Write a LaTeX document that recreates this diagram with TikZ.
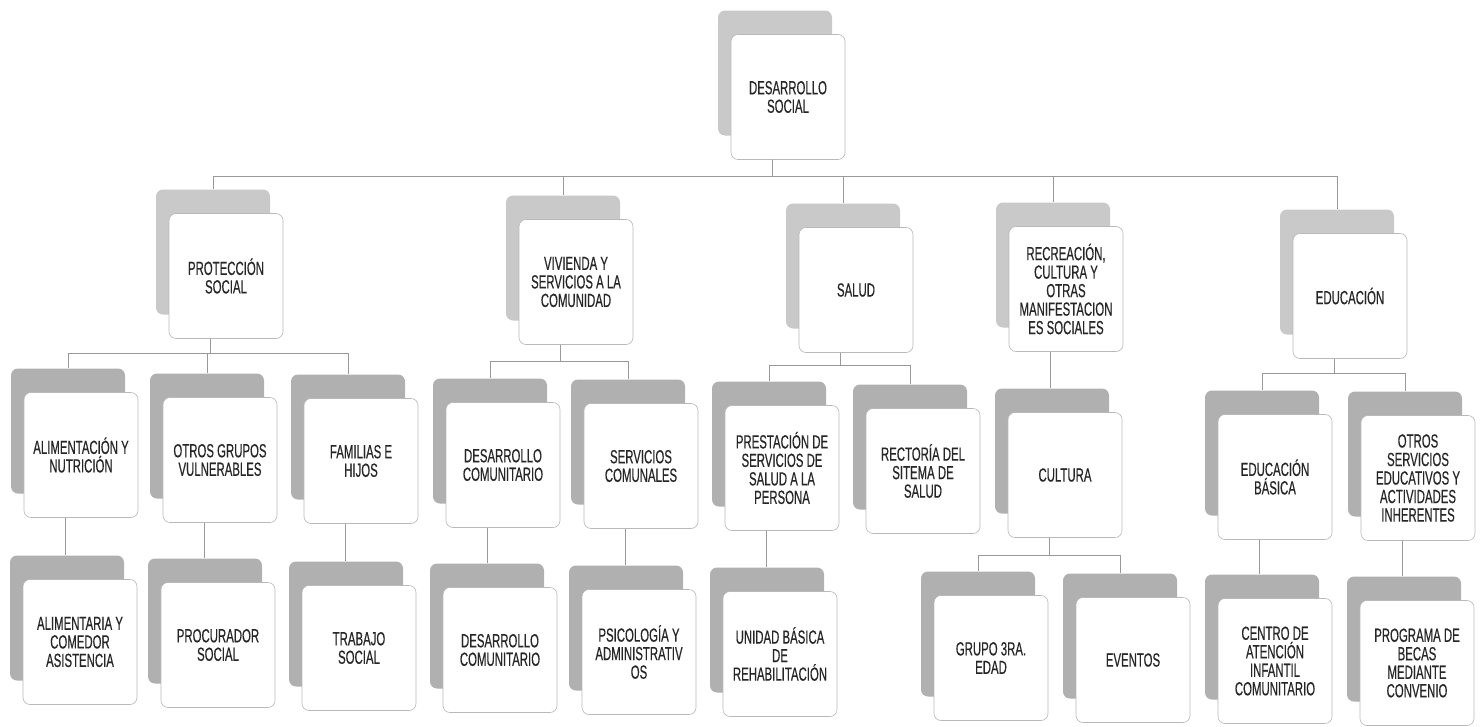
\documentclass[tikz,border=0pt]{standalone}
\usepackage{fontspec}
\setmainfont{Liberation Sans}[FakeStretch=0.6,FakeBold=0.4]
\usetikzlibrary{calc,shadows}
\begin{document}
\begin{tikzpicture}[x=1pt,y=-1pt,
  box/.style={draw=gray!55, line width=0.6pt, fill=white, rounded corners=7pt,
    minimum width=114pt, minimum height=125pt, inner sep=0pt, align=center,
    text=black!85, font=\fontsize{19}{18.5}\selectfont},
  shlight/.style={general shadow={fill=gray!42, rounded corners=7pt, shadow xshift=-13pt, shadow yshift=24pt}},
  shdark/.style={general shadow={fill=gray!62, rounded corners=7pt, shadow xshift=-13pt, shadow yshift=24pt}},
  conn/.style={draw=gray!80, line width=0.8pt}]
\useasboundingbox[fill=white] (0,0) rectangle (1484,726);

% level 0 and 1
\node[box,shlight] (root) at (788,97) {DESARROLLO\\SOCIAL};
\node[box,shlight] (prot) at (226,276) {PROTECCIÓN\\SOCIAL};
\node[box,shlight] (viv) at (576,282) {VIVIENDA Y\\SERVICIOS A LA\\COMUNIDAD};
\node[box,shlight] (salud) at (856,290) {SALUD};
\node[box,shlight] (recr) at (1066,289) {RECREACIÓN,\\CULTURA Y\\OTRAS\\MANIFESTACION\\ES SOCIALES};
\node[box,shlight] (educ) at (1350,296) {EDUCACIÓN};

% level 2
\node[box,shdark] (alim) at (81,455) {ALIMENTACIÓN Y\\NUTRICIÓN};
\node[box,shdark] (otros) at (220,460) {OTROS GRUPOS\\VULNERABLES};
\node[box,shdark] (fam) at (361,461) {FAMILIAS E\\HIJOS};
\node[box,shdark] (descom) at (503,465) {DESARROLLO\\COMUNITARIO};
\node[box,shdark] (servcom) at (641,466) {SERVICIOS\\COMUNALES};
\node[box,shdark] (prest) at (782,468) {PRESTACIÓN DE\\SERVICIOS DE\\SALUD A LA\\PERSONA};
\node[box,shdark] (rect) at (923,471) {RECTORÍA DEL\\SITEMA DE\\SALUD};
\node[box,shdark] (cult) at (1065,475) {CULTURA};
\node[box,shdark] (edbas) at (1275,477) {EDUCACIÓN\\BÁSICA};
\node[box,shdark] (otserv) at (1418,478) {OTROS\\SERVICIOS\\EDUCATIVOS Y\\ACTIVIDADES\\INHERENTES};

% level 3
\node[box,shdark] (alimcom) at (80,642) {ALIMENTARIA Y\\COMEDOR\\ASISTENCIA};
\node[box,shdark] (procu) at (218,645) {PROCURADOR\\SOCIAL};
\node[box,shdark] (trab) at (359,648) {TRABAJO\\SOCIAL};
\node[box,shdark] (descomb) at (500,650) {DESARROLLO\\COMUNITARIO};
\node[box,shdark] (psico) at (639,652) {PSICOLOGÍA Y\\ADMINISTRATIV\\OS};
\node[box,shdark] (unidad) at (780,654) {UNIDAD BÁSICA\\DE\\REHABILITACIÓN};
\node[box,shdark] (grupo) at (991,658) {GRUPO 3RA.\\EDAD};
\node[box,shdark] (event) at (1133,660) {EVENTOS};
\node[box,shdark] (centro) at (1275,661) {CENTRO DE\\ATENCIÓN\\INFANTIL\\COMUNITARIO};
\node[box,shdark] (progr) at (1417,663) {PROGRAMA DE\\BECAS\\MEDIANTE\\CONVENIO};

% bar levels
\coordinate (bar0) at (0,176);
\coordinate (barP) at (0,353);
\coordinate (barV) at (0,361);
\coordinate (barS) at (0,365);
\coordinate (barE) at (0,373);
\coordinate (barC) at (0,555);

% parent anchors
\foreach \p in {root,prot,viv,salud,recr,educ,alim,otros,fam,descom,servcom,prest,cult,edbas,otserv}
  \coordinate (\p-out) at ($(\p.south)+(-16,0)$);
% child anchors (top of shadow)
\foreach \c in {prot,viv,salud,recr,educ,alim,otros,fam,descom,servcom,prest,rect,cult,edbas,otserv,alimcom,procu,trab,descomb,psico,unidad,grupo,event,centro,progr}
  \coordinate (\c-in) at ($(\c.north)+(-13,-24)$);

% connectors through bars
\foreach \c in {prot,viv,salud,recr,educ}
  \draw[conn] (root-out) -- (root-out |- bar0) -| (\c-in);
\foreach \c in {alim,otros,fam}
  \draw[conn] (prot-out) -- (prot-out |- barP) -| (\c-in);
\foreach \c in {descom,servcom}
  \draw[conn] (viv-out) -- (viv-out |- barV) -| (\c-in);
\foreach \c in {prest,rect}
  \draw[conn] (salud-out) -- (salud-out |- barS) -| (\c-in);
\foreach \c in {edbas,otserv}
  \draw[conn] (educ-out) -- (educ-out |- barE) -| (\c-in);
\foreach \c in {grupo,event}
  \draw[conn] (cult-out) -- (cult-out |- barC) -| (\c-in);

% single-child connectors
\draw[conn] (recr-out) -- (recr-out |- cult-in);
\draw[conn] (alim-out) -- (alim-out |- alimcom-in);
\draw[conn] (otros-out) -- (otros-out |- procu-in);
\draw[conn] (fam-out) -- (fam-out |- trab-in);
\draw[conn] (descom-out) -- (descom-out |- descomb-in);
\draw[conn] (servcom-out) -- (servcom-out |- psico-in);
\draw[conn] (prest-out) -- (prest-out |- unidad-in);
\draw[conn] (edbas-out) -- (edbas-out |- centro-in);
\draw[conn] (otserv-out) -- (otserv-out |- progr-in);
\end{tikzpicture}
\end{document}
